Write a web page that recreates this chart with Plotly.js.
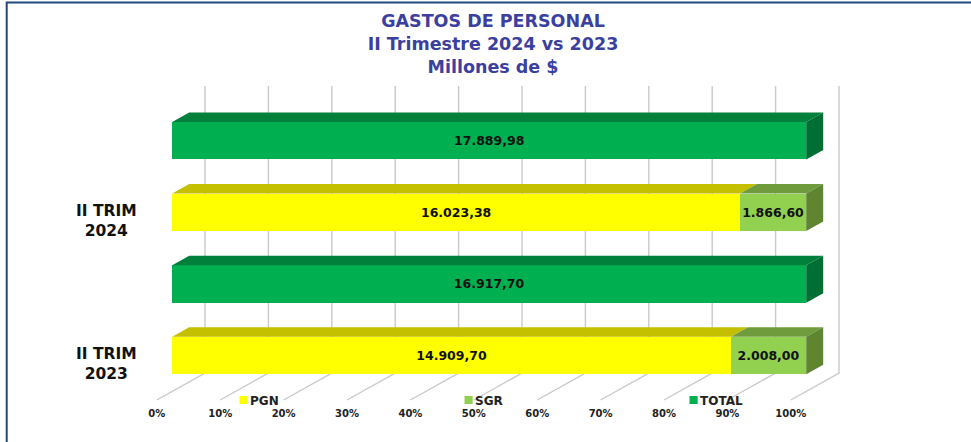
<!DOCTYPE html>
<html><head><meta charset="utf-8">
<script src="https://cdn.plot.ly/plotly-3.0.1.min.js"></script>
<style>html,body{margin:0;padding:0;background:#fff}#c{width:971px;height:442px}</style>
</head><body><div id="c"></div>
<script>
// Data
const rowLabels = ['II TRIM 2023 PGN/SGR', 'II TRIM 2023 TOTAL', 'II TRIM 2024 PGN/SGR', 'II TRIM 2024 TOTAL'];
const pgn   = [14909.70, 0, 16023.38, 0];
const sgr   = [2008.00, 0, 1866.60, 0];
const total = [0, 16917.70, 0, 17889.98];
const pgnText   = ['14.909,70', '', '16.023,38', ''];
const sgrText   = ['2.008,00', '', '1.866,60', ''];
const totalText = ['', '16.917,70', '', '17.889,98'];
const groupLabels = ['II TRIM<br>2023', 'II TRIM<br>2024'];
const pctTicks = [0,10,20,30,40,50,60,70,80,90,100];

// Colours
const seriesColors = {PGN:'#ffff00', SGR:'#92d050', TOTAL:'#00b050'};
const topColors = {PGN:'#c4c000', SGR:'#6f9b3c', TOTAL:'#00803a'};
const sideColors = {SGR:'#5f8531', TOTAL:'#006f33'};
const W = 971, H = 442;
const pxPerPct = 6.34, pxPerRow = 71.6, row0Px = 355.5;
const halfBar = 0.262;
// 3-D projection offsets, in axis units
const depthX = 17 / pxPerPct, depthY = 9.5 / pxPerRow;
const wallX = 48.2 / pxPerPct, wallY = 27 / pxPerRow;
const floorY = (row0Px - 400) / pxPerRow, wallTop = (row0Px - 86) / pxPerRow;

function xRange(zeroPx){ return [-zeroPx/pxPerPct, (W-zeroPx)/pxPerPct]; }
const yRange = [(row0Px-H)/pxPerRow, row0Px/pxPerRow];
const rows = rowLabels.map((_,i)=>i);

const traces = [];
// Wall gridlines + floor lines in the back subplot
const gx = [], gy = [];
pctTicks.forEach(p=>{
  gx.push(p, p+wallX, p+wallX, null);
  gy.push(floorY, floorY+wallY, wallTop, null);
});
traces.push({type:'scatter',mode:'lines',x:gx,y:gy,xaxis:'x',yaxis:'y',hoverinfo:'skip',showlegend:false,
  line:{color:'#c9c9c9',width:1.4}, connectgaps:false});

function barTrace(name, vals, text){
  return {type:'bar',orientation:'h',name,x:vals,y:rows,xaxis:'x2',yaxis:'y2',width:halfBar*2,
    text,textposition:'inside',insidetextanchor:'middle',constraintext:'none',textangle:0,
    textfont:{family:'DejaVu Sans',size:12.5,color:'#111',weight:700},
    marker:{color:seriesColors[name],line:{width:0}},hoverinfo:'x+name'};
}
traces.push(barTrace('PGN',pgn,pgnText), barTrace('SGR',sgr,sgrText), barTrace('TOTAL',total,totalText));

function poly(xs,ys,color){
  traces.push({type:'scatter',mode:'lines',x:xs,y:ys,xaxis:'x2',yaxis:'y2',fill:'toself',fillcolor:color,
    line:{width:0,color:color},hoverinfo:'skip',showlegend:false});
}
rows.forEach(r=>{
  const sum = pgn[r]+sgr[r]+total[r];
  let start = 0;
  [['PGN',pgn[r]],['SGR',sgr[r]],['TOTAL',total[r]]].forEach(([n,v])=>{
    if(!v) return;
    const end = start + v/sum*100;
    const t = r+halfBar, b = r-halfBar;
    poly([start,start+depthX,end+depthX,end,start],[t,t+depthY,t+depthY,t,t],topColors[n]);
    if(end>99.999){
      poly([end,end+depthX,end+depthX,end,end],[t,t+depthY,b+depthY,b,t],sideColors[n]);
    }
    start = end;
  });
});

const labelFont = {family:'DejaVu Sans',size:15.5,color:'#111',weight:700};
const layout = {
  width:W,height:H,margin:{l:0,r:0,t:0,b:0},paper_bgcolor:'#fff',plot_bgcolor:'rgba(0,0,0,0)',
  barmode:'stack',barnorm:'percent',
  title:{text:'GASTOS DE PERSONAL<br>II Trimestre 2024 vs 2023<br>Millones de $',
    font:{family:'DejaVu Sans',size:17.5,color:'#3b3f9f',weight:700},
    x:493/W,xanchor:'center',y:1-27/H,yanchor:'top',automargin:false},
  xaxis:{domain:[0,1],range:xRange(156.8),tickvals:pctTicks,ticktext:pctTicks.map(p=>p+'%'),
    anchor:'free',position:(H-406)/H,showgrid:false,zeroline:false,showline:false,ticks:'',
    tickfont:{family:'DejaVu Sans',size:10,color:'#222',weight:700},fixedrange:true},
  yaxis:{domain:[0,1],range:yRange,visible:false,fixedrange:true},
  xaxis2:{domain:[0,1],range:xRange(172.2),overlaying:'x',visible:false,fixedrange:true},
  yaxis2:{domain:[0,1],range:yRange,overlaying:'y',visible:false,fixedrange:true,anchor:'x2'},
  showlegend:true,
  legend:{orientation:'h',x:210/W,y:(H-400)/H,xanchor:'left',yanchor:'middle',entrywidth:180,entrywidthmode:'pixels',
    font:{family:'DejaVu Sans',size:12,color:'#222',weight:700},bgcolor:'rgba(0,0,0,0)',traceorder:'normal'},
  annotations:[
    {text:groupLabels[1],xref:'paper',yref:'paper',x:106/W,y:1-221/H,xanchor:'center',yanchor:'middle',showarrow:false,align:'center',font:labelFont},
    {text:groupLabels[0],xref:'paper',yref:'paper',x:106/W,y:1-364/H,xanchor:'center',yanchor:'middle',showarrow:false,align:'center',font:labelFont}
  ],
  shapes:[{type:'rect',xref:'paper',yref:'paper',x0:6.7/W,x1:1.2,y0:-0.2,y1:1-2.5/H,line:{color:'#1f497d',width:2},fillcolor:'rgba(0,0,0,0)',layer:'below'}]
};
Plotly.newPlot('c',traces,layout,{displayModeBar:false,staticPlot:true}).then(gd=>{
  // Excel-style legend: small swatch close to its text
  gd.querySelectorAll('.legendpoints').forEach(g=>g.setAttribute('transform','translate(20,0) scale(0.68)'));
});
</script></body></html>
